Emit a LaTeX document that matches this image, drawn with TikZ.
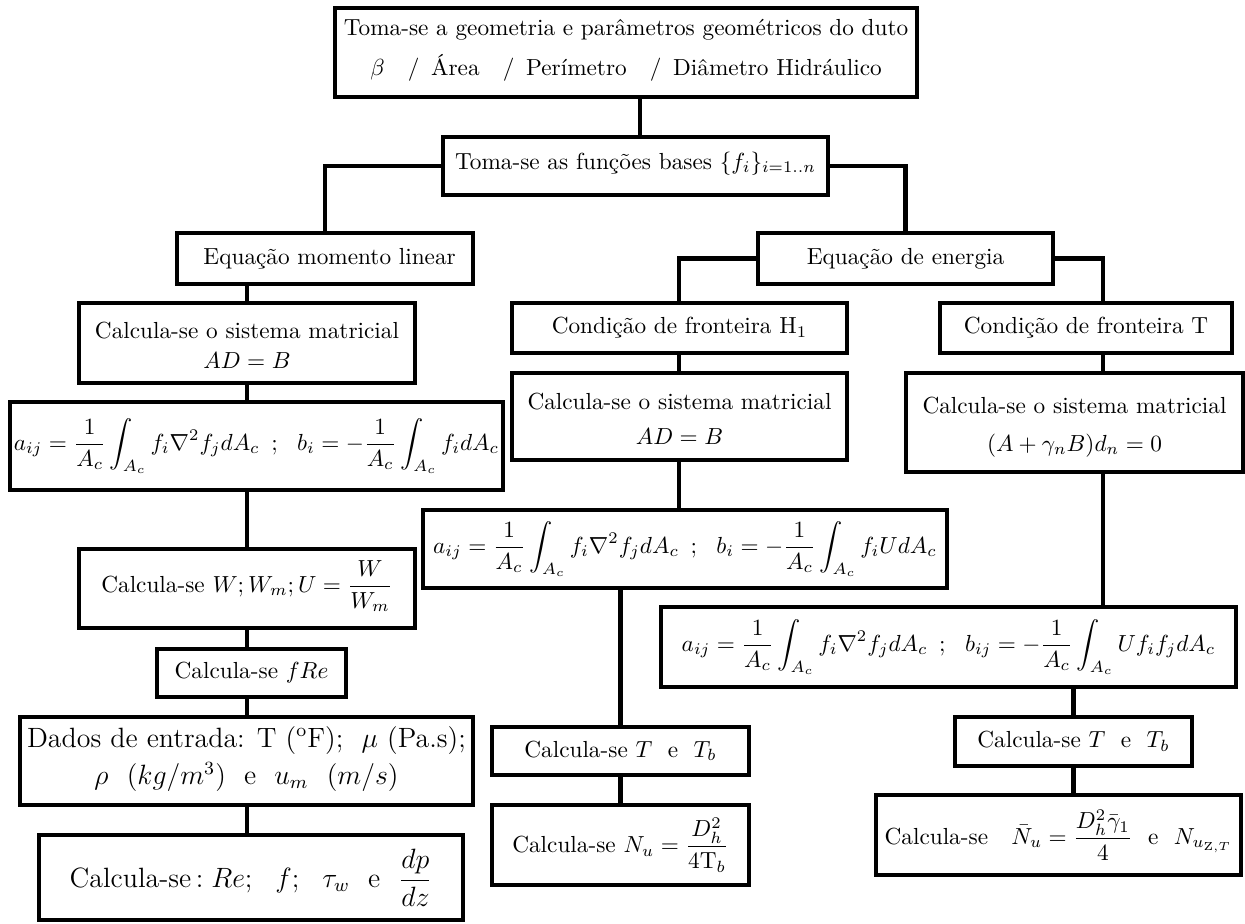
\documentclass[tikz,border=0pt]{standalone}
\usepackage{amsmath}
\usepackage{fontspec}
\usetikzlibrary{fit}
\tikzset{
  box/.style={draw, line width=1.5pt, inner sep=0pt},
  lbl/.style={align=center, inner sep=0pt},
  conn/.style={line width=2pt}
}
\begin{document}
\begin{tikzpicture}[x=0.43pt,y=-0.43pt]
\fill[white] (0,0) rectangle (1245,923);
\useasboundingbox (0,0) rectangle (1245,923);
% x positions of connectors
\coordinate (x640) at (640,0);
\coordinate (x247) at (247,0);
\coordinate (x1103) at (1103,0);
\coordinate (x679) at (679,0);
% boxes
\node[box, fit={(335,8)(917,97)}] (top) {};
\node[lbl] (topt) at ([yshift=1pt]top.center) {Toma-se a geometria e parâmetros geométricos do duto\\[5pt]
 $\beta$ \ \ / \,Área \ \ / \,Perímetro \ \ / \,Diâmetro Hidráulico};
\node[box, fit={(443,137)(828,195)}] (fb) {};
\node[lbl] (fbt) at ([yshift=1pt]fb.center) {Toma-se as funções bases $\{f_i\}_{i=1..n}$};
\node[box, fit={(177,233)(473,284)}] (eml) {};
\node[lbl] (emlt) at ([xshift=2pt]eml.center) {Equação momento linear};
\node[box, fit={(758,233)(1053,284)}] (ee) {};
\node[lbl] (eet) at (ee.center) {Equação de energia};
\node[box, fit={(79,303)(415,383)}] (csma) {};
\node[lbl] (csmat) at ([yshift=-1pt]csma.center) {Calcula-se o sistema matricial\\[1pt] $AD=B$};
\node[box, fit={(10,402)(503,490)}] (aija) {};
\node[lbl] (aijat) at (aija.center) {$a_{ij}=\dfrac{1}{A_c}\displaystyle\int_{A_c} f_i\nabla^2 f_j dA_c\ \,;\ \ b_i=-\dfrac{1}{A_c}\int_{A_c} f_i dA_c$};
\node[box, fit={(79,549)(415,628)}] (wbox) {};
\node[lbl] (wboxt) at ([yshift=1pt]wbox.center) {Calcula-se $W;W_m;U=\dfrac{W}{W_m}$};
\node[box, fit={(157,649)(346,697)}] (fre) {};
\node[lbl] (fret) at (fre.center) {Calcula-se $fRe$};
\node[box, fit={(20,717)(473,805)}] (dados) {};
\node[lbl, font=\large] (dadost) at ([yshift=1pt]dados.center) {Dados de entrada: T (\textsuperscript{o}F); \ $\mu$ (Pa.s);\\[2pt]
 $\rho\ \ (kg/m^3)$ \ e \ $u_m\ \ (m/s)$};
\node[box, fit={(39,835)(463,920)}] (rebox) {};
\node[lbl, font=\large] (reboxt) at (rebox.center) {Calcula-se$\,:Re;\ \ f;\ \ \tau_w$ \ e \ $\dfrac{dp}{dz}$};
\node[box, fit={(512,303)(847,353)}] (cha) {};
\node[lbl] (chat) at (cha.center) {Condição de fronteira H$_1$};
\node[box, fit={(512,373)(847,460)}] (csmb) {};
\node[lbl] (csmbt) at ([yshift=-1pt]csmb.center) {Calcula-se o sistema matricial\\[3pt] $AD=B$};
\node[box, fit={(423,510)(947,588)}] (aijb) {};
\node[lbl] (aijbt) at (aijb.center) {$a_{ij}=\dfrac{1}{A_c}\displaystyle\int_{A_c} f_i\nabla^2 f_j dA_c\ \,;\ \ b_i=-\dfrac{1}{A_c}\int_{A_c} f_i U dA_c$};
\node[box, fit={(940,303)(1232,353)}] (ct) {};
\node[lbl] (ctt) at (ct.center) {Condição de fronteira T};
\node[box, fit={(906,373)(1243,472)}] (csmc) {};
\node[lbl] (csmct) at ([yshift=-2pt]csmc.center) {Calcula-se o sistema matricial\\[4pt] $(A+\gamma_nB)d_n=0$};
\node[box, fit={(661,607)(1236,687)}] (aijc) {};
\node[lbl] (aijct) at (aijc.center) {$a_{ij}=\dfrac{1}{A_c}\displaystyle\int_{A_c} f_i\nabla^2 f_j dA_c\ \,;\ \ b_{ij}=-\dfrac{1}{A_c}\int_{A_c} U f_i f_j dA_c$};
\node[box, fit={(492,727)(749,775)}] (ta) {};
\node[lbl] (tat) at (ta.center) {Calcula-se $T$ \ e \ $T_b$};
\node[box, fit={(492,805)(749,885)}] (nua) {};
\node[lbl] (nuat) at (nua.center) {Calcula-se $N_u=\dfrac{D_h^2}{4\mathrm{T}_b}$};
\node[box, fit={(955,717)(1192,766)}] (tb) {};
\node[lbl] (tbt) at (tb.center) {Calcula-se $T$ \ e \ $T_b$};
\node[box, fit={(876,795)(1241,875)}] (nub) {};
\node[lbl] (nubt) at (nub.center) {Calcula-se \ \ $\bar{N}_u=\dfrac{D_h^2\bar{\gamma}_1}{4}$ \ e \ $N_{u_{\mathrm{Z},T}}$};
% connectors
\draw[conn] (top.south -| x640) -- (fb.north -| x640);
\draw[conn] (fb.west) -| (eml.north);
\draw[conn] (fb.east) -| (ee.north);
\draw[conn] (eml.south -| x247) -- (csma.north -| x247);
\draw[conn] (csma.south -| x247) -- (aija.north -| x247);
\draw[conn] (aija.south -| x247) -- (wbox.north -| x247);
\draw[conn] (wbox.south -| x247) -- (fre.north -| x247);
\draw[conn] (fre.south -| x247) -- (dados.north -| x247);
\draw[conn] (dados.south -| x247) -- (rebox.north -| x247);
\draw[conn] (ee.west) -| (cha.north -| x679);
\draw[conn] (ee.east) -| (ct.north -| x1103);
\draw[conn] (cha.south -| x679) -- (csmb.north -| x679);
\draw[conn] (csmb.south -| x679) -- (aijb.north -| x679);
\draw[conn] (aijb.south -| ta.north) -- (ta.north);
\draw[conn] (ta.south) -- (nua.north);
\draw[conn] (ct.south -| x1103) -- (csmc.north -| x1103);
\draw[conn] (csmc.south -| x1103) -- (aijc.north -| x1103);
\draw[conn] (aijc.south -| tb.north) -- (tb.north);
\draw[conn] (tb.south) -- (tb.south |- nub.north);
\end{tikzpicture}
\end{document}
